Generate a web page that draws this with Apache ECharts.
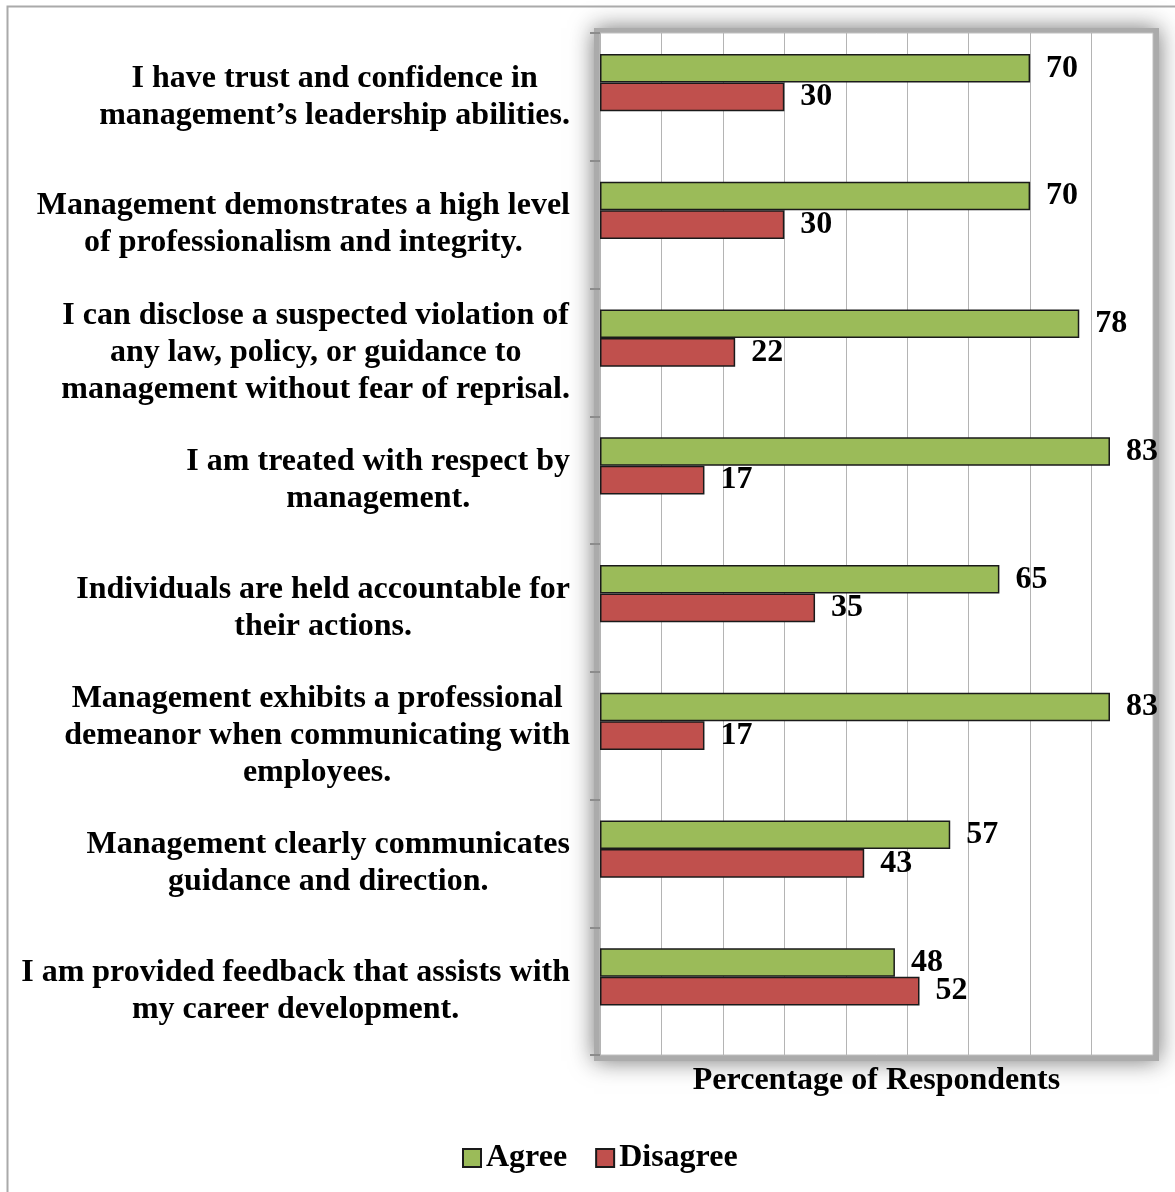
<!DOCTYPE html>
<html>
<head>
<meta charset="utf-8">
<script src="https://cdn.jsdelivr.net/npm/echarts@6/dist/echarts.min.js"></script>
<style>
html,body{margin:0;padding:0;background:#fff;}
#chart{width:1175px;height:1192px;}
</style>
</head>
<body>
<div id="chart"></div>
<script>
const categories = [
  "I have trust and confidence in\nmanagement\u2019s leadership abilities.",
  "Management demonstrates a high level\nof professionalism and integrity.",
  "I can disclose a suspected violation of\nany law, policy, or guidance to\nmanagement without fear of reprisal.",
  "I am treated with respect by\nmanagement.",
  "Individuals are held accountable for\ntheir actions.",
  "Management exhibits a professional\ndemeanor when communicating with\nemployees.",
  "Management clearly communicates\nguidance and direction.",
  "I am provided feedback that assists with\nmy career development."
];
const agree = [70, 70, 78, 83, 65, 83, 57, 48];
const disagree = [30, 30, 22, 17, 35, 17, 43, 52];
const spacer = [];
const axisTitle = "Percentage of Respondents";

const FONT = "'Liberation Serif', 'Times New Roman', serif";
const FS = 32;
const chart = echarts.init(document.getElementById('chart'));
const valueLabel = {
  show: true, position: 'right', distance: 16,
  fontFamily: FONT, fontWeight: 'bold', fontSize: FS, color: '#000'
};
chart.setOption({
  animation: false,
  backgroundColor: '#fff',
  graphic: [{
    type: 'rect', left: 5, top: 4,
    shape: { width: 1300, height: 1300 },
    style: { fill: 'none', stroke: '#aaaaaa', lineWidth: 2 },
    z: 100, silent: true
  }, {
    type: 'rect', left: 594, top: 28, z: -1, silent: true,
    shape: { width: 565, height: 1033 },
    style: { fill: '#ababab', shadowBlur: 22, shadowColor: 'rgba(110,110,110,0.95)' }
  }],
  grid: {
    left: 600, right: 22, top: 33, bottom: 137,
    show: true, backgroundColor: '#fff',
    borderWidth: 1, borderColor: '#c0c0c0'
  },
  legend: {
    data: ['Agree', 'Disagree'],
    left: 457, top: 1137,
    itemWidth: 18, itemHeight: 18, itemGap: 28,
    icon: 'rect',
    textStyle: { fontFamily: FONT, fontWeight: 'bold', fontSize: FS, color: '#000' }
  },
  xAxis: {
    type: 'value', min: 0, max: 90, interval: 10,
    axisLabel: { show: false },
    axisLine: { show: false },
    axisTick: { show: false },
    splitLine: { show: true, lineStyle: { color: '#b4b4b4', width: 1 } },
    name: axisTitle, nameLocation: 'middle', nameGap: 10,
    nameTextStyle: { fontFamily: FONT, fontWeight: 'bold', fontSize: FS, color: '#000', verticalAlign: 'top' }
  },
  yAxis: {
    type: 'category', data: categories, inverse: true,
    axisLine: { show: false },
    axisTick: { show: true, length: 10, lineStyle: { color: '#8c8c8c', width: 2 } },
    axisLabel: {
      margin: 30, align: 'right',
      formatter: v => v.split('\n').map(s => '{c|' + s + '}').join('\n'),
      rich: {
        c: { align: 'center', fontFamily: FONT, fontWeight: 'bold', fontSize: FS, lineHeight: 37, color: '#000' }
      }
    }
  },
  series: [
    {
      name: 'Agree', type: 'bar', data: agree,
      barGap: '0%', barCategoryGap: '33%',
      itemStyle: { color: '#9bbb59', borderColor: '#1a1a1a', borderWidth: 1.5 },
      label: valueLabel
    },
    {
      name: 'Disagree', type: 'bar', data: disagree,
      itemStyle: { color: '#c0504d', borderColor: '#1a1a1a', borderWidth: 1.5 },
      label: valueLabel
    },
    {
      name: 'spacer', type: 'bar', data: spacer
    }
  ]
});
</script>
</body>
</html>
